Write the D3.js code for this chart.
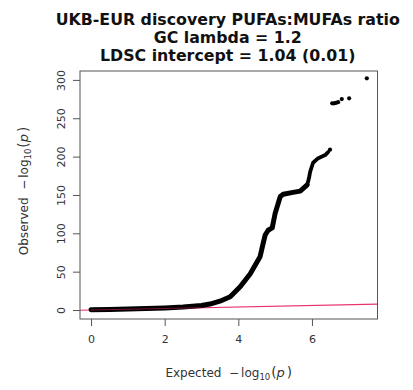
<!DOCTYPE html>
<html><head><meta charset="utf-8">
<script src="https://cdn.jsdelivr.net/npm/d3@7"></script>
<style>
html,body{margin:0;padding:0;background:#fff;}
svg{display:block;font-family:"DejaVu Sans",sans-serif;}
text{white-space:pre;}
</style></head>
<body>
<svg id="c" width="413" height="390"></svg>
<script>
// Main (dense) part of the QQ curve: expected vs observed -log10(p)
const expected = [0, 0.5, 1, 1.5, 2, 2.5, 3, 3.23, 3.5, 3.78, 4.05, 4.32, 4.59, 4.66, 4.73, 4.81, 4.92, 5.0, 5.14, 5.22, 5.45, 5.68, 5.87];
const observed = [0.4, 0.8, 1.3, 1.9, 2.8, 3.8, 5.8, 7.8, 11.5, 17.3, 30.3, 46.9, 69.5, 84, 97.8, 104, 107, 126, 148, 151, 153, 155, 163];
// Upper, thinner part of the curve
const upperExpected = [5.87, 5.92, 5.95, 6.03, 6.17, 6.36, 6.44];
const upperObserved = [163, 172, 180, 192, 198, 202, 206];
// Sparse top hits
const topExpected = [6.49, 6.55, 6.6, 6.65, 6.71, 6.81, 7.01, 7.49];
const topObserved = [209, 269.5, 269.5, 270, 271, 275, 276, 302];
// Axes ticks
const xTicks = [0, 2, 4, 6];
const yTicks = [0, 50, 100, 150, 200, 250, 300];
const titleLines = ["UKB-EUR discovery PUFAs:MUFAs ratio", "GC lambda = 1.2", "LDSC intercept = 1.04 (0.01)"];

const svg = d3.select("#c");
const L = 80, R = 377.5, T = 71, B = 319;
const x = d3.scaleLinear().domain([-0.3, 7.78]).range([L, R]);
const y = d3.scaleLinear().domain([-11.7, 311.6]).range([B, T]);

svg.append("defs").append("clipPath").attr("id","clip")
  .append("rect").attr("x",L).attr("y",T).attr("width",R-L).attr("height",B-T);

// red y=x line
svg.append("line")
  .attr("clip-path","url(#clip)")
  .attr("x1", x(-0.3)).attr("y1", y(-0.3))
  .attr("x2", x(7.78)).attr("y2", y(7.78))
  .attr("stroke","#e8336b").attr("stroke-width",1.2);

const line = d3.line().x(d=>x(d[0])).y(d=>y(d[1]));
const main = expected.map((e,i)=>[e, observed[i]]);
svg.append("path").datum(main).attr("d", line)
  .attr("fill","none").attr("stroke","#000").attr("stroke-width",5)
  .attr("stroke-linejoin","round").attr("stroke-linecap","round");
const upper = upperExpected.map((e,i)=>[e, upperObserved[i]]);
svg.append("path").datum(upper).attr("d", line)
  .attr("fill","none").attr("stroke","#000").attr("stroke-width",3.8)
  .attr("stroke-linejoin","round").attr("stroke-linecap","round");

// red line faintly visible through the low part of the points
svg.append("line")
  .attr("clip-path","url(#clip)")
  .attr("x1", x(0)).attr("y1", y(0))
  .attr("x2", x(3)).attr("y2", y(3))
  .attr("stroke","#c0204f").attr("stroke-width",1).attr("opacity",0.6);

const tops = topExpected.map((e,i)=>[e, topObserved[i]]);
svg.selectAll("circle.top").data(tops).enter().append("circle")
  .attr("class","top").attr("cx", d=>x(d[0])).attr("cy", d=>y(d[1]))
  .attr("r", 2.1).attr("fill","#000");

// box
svg.append("rect").attr("x",L).attr("y",T).attr("width",R-L).attr("height",B-T)
  .attr("fill","none").attr("stroke","#555").attr("stroke-width",1);

// x axis
const xa = svg.append("g").attr("transform",`translate(0,${B})`)
  .call(d3.axisBottom(x).tickValues(xTicks).tickSize(7).tickPadding(9).tickFormat(d3.format("d")));
xa.select(".domain").remove();
xa.selectAll("line").attr("stroke","#555");
xa.selectAll("text").attr("font-size",11).attr("fill","#333").attr("font-family","DejaVu Sans");

// y axis
const ya = svg.append("g").attr("transform",`translate(${L},0)`)
  .call(d3.axisLeft(y).tickValues(yTicks).tickSize(7).tickPadding(0).tickFormat(d3.format("d")));
ya.select(".domain").remove();
ya.selectAll("line").attr("stroke","#555");
ya.selectAll("text").attr("font-size",11).attr("fill","#333").attr("font-family","DejaVu Sans")
  .attr("text-anchor","middle").attr("x",0).attr("dy",0)
  .attr("transform","translate(-15,0) rotate(-90)");

// titles
titleLines.forEach((t,i)=>{
  svg.append("text").attr("x",(L+R)/2 - 1).attr("y",24.5+i*18.2)
    .attr("text-anchor","middle").attr("font-weight","bold").attr("font-size",15.8)
    .attr("fill","#111").text(t);
});

function logLabel(sel, word){
  sel.append("tspan").text(word + "  \u2212");
  sel.append("tspan").attr("dx",2).text("log");
  sel.append("tspan").attr("font-size",8.5).attr("dy",3).text("10");
  sel.append("tspan").attr("dy",-3).attr("dx",1).attr("font-size",13.5).text("(");
  sel.append("tspan").attr("font-style","italic").attr("font-size",13).text("p");
  sel.append("tspan").attr("dx",2).attr("font-size",13.5).text(")");
}
const xl = svg.append("text").attr("x",(L+R)/2).attr("y",377)
  .attr("text-anchor","middle").attr("font-size",12).attr("fill","#333");
logLabel(xl, "Expected");
const yl = svg.append("text").attr("transform",`translate(28,${(T+B)/2 - 4}) rotate(-90)`)
  .attr("text-anchor","middle").attr("font-size",12).attr("fill","#333");
logLabel(yl, "Observed");
</script>
</body></html>
